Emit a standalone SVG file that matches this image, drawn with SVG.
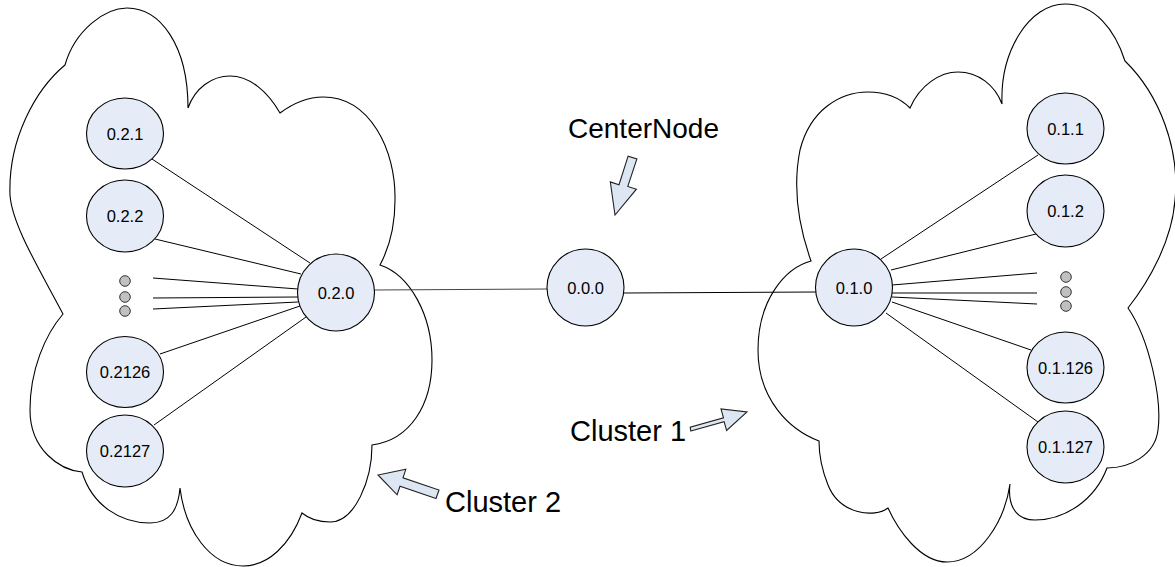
<svg xmlns="http://www.w3.org/2000/svg" width="1175" height="567" viewBox="0 0 1175 567">
<style>
.cloud{fill:#ffffff;stroke:#000;stroke-width:1.1}
.node{fill:#e6ecf7;stroke:#000;stroke-width:1.1}
.dot{fill:#c0c0c0;stroke:#333;stroke-width:1}
.lbl{font-family:"Liberation Sans",Arial,sans-serif;font-size:16.5px;fill:#000;text-anchor:middle}
.big{font-family:"Liberation Sans",Arial,sans-serif;font-size:28px;fill:#000}
.cl{font-size:29px}
.conn line{stroke:#000;stroke-width:1}
.arrow{fill:#dde6f3;stroke:#222;stroke-width:1.1;stroke-linejoin:miter}
</style>
<g id="cluster2">
<path class="cloud" d="M65,65 C75,30 105,8 127,8 C160,8 188,45 188,108 C195,88 212,76 230,76 C250,76 268,92 280,113 C295,102 310,97 323,97 C370,97 396,150 395,200 C395,230 388,250 380,265 C410,275 432,315 432,360 C432,405 410,440 372,445 C372,480 355,522 330,522 C318,522 308,518 302,513 C290,545 268,566 243,566 C210,566 185,530 180,488 C178,510 170,523 150,523 C120,523 92,505 82,472 C60,470 30,450 30,410 C30,370 45,335 63,314 C40,270 12,225 10,195 C8,140 35,90 65,65 Z"/>
</g>
<g id="cluster1">
<path class="cloud" d="M910,108 C920,85 940,72 958,72 C978,72 995,85 1002,104 C1000,50 1030,4 1065,4 C1095,4 1115,30 1125,61 C1160,95 1180,150 1175,200 C1172,240 1150,280 1128,308 C1150,340 1162,400 1158,430 C1155,455 1130,468 1107,468 C1095,500 1065,520 1035,520 C1012,520 1008,500 1010,484 C1005,520 980,562 947,562 C920,562 898,530 888,508 C875,518 840,515 828,485 C822,470 819,455 819,441 C790,430 758,400 758,350 C758,300 785,268 811,261 C800,230 792,190 800,150 C810,110 840,92 868,92 C885,92 900,98 910,108 Z"/>
</g>
<g id="connectors" class="conn">
<line x1="152" y1="159" x2="310" y2="263"/>
<line x1="155" y1="239" x2="301" y2="274"/>
<line x1="153" y1="278" x2="298" y2="289"/>
<line x1="153" y1="298" x2="298" y2="297"/>
<line x1="153" y1="309" x2="298" y2="302"/>
<line x1="160" y1="354" x2="300" y2="306"/>
<line x1="154" y1="425" x2="306" y2="317"/>
<line x1="374" y1="290" x2="547" y2="289" style="stroke:#444"/>
<line x1="624" y1="293" x2="816" y2="292"/>
<line x1="881" y1="259" x2="1038" y2="155"/>
<line x1="891" y1="270" x2="1036" y2="234"/>
<line x1="892" y1="285" x2="1037" y2="273"/>
<line x1="892" y1="293" x2="1037" y2="293"/>
<line x1="892" y1="297" x2="1037" y2="304"/>
<line x1="892" y1="302" x2="1031" y2="350"/>
<line x1="886" y1="313" x2="1038" y2="422"/>
</g>
<g id="n021"><ellipse class="node" cx="125" cy="133.5" rx="38.5" ry="35.5"/><text class="lbl" x="125" y="139.5">0.2.1</text></g>
<g id="n022"><ellipse class="node" cx="125" cy="216" rx="38.5" ry="36"/><text class="lbl" x="125" y="222">0.2.2</text></g>
<g id="dotsL"><circle class="dot" cx="125" cy="281" r="5.3"/><circle class="dot" cx="125" cy="297" r="5.3"/><circle class="dot" cx="125" cy="311" r="5.3"/></g>
<g id="n02126"><ellipse class="node" cx="125" cy="372" rx="38.5" ry="35.5"/><text class="lbl" x="125" y="378">0.2126</text></g>
<g id="n02127"><ellipse class="node" cx="125" cy="451" rx="38.5" ry="36"/><text class="lbl" x="125" y="457">0.2127</text></g>
<g id="n020"><ellipse class="node" cx="336" cy="292.5" rx="38.5" ry="38.5"/><text class="lbl" x="336" y="298.5">0.2.0</text></g>
<g id="n000"><ellipse class="node" cx="585.5" cy="287.5" rx="38.5" ry="38.5"/><text class="lbl" x="585.5" y="293.5">0.0.0</text></g>
<g id="n010"><ellipse class="node" cx="854" cy="287.5" rx="38.5" ry="38.5"/><text class="lbl" x="854" y="293.5">0.1.0</text></g>
<g id="n011"><ellipse class="node" cx="1065.5" cy="128.5" rx="38.5" ry="35.5"/><text class="lbl" x="1065.5" y="134.5">0.1.1</text></g>
<g id="n012"><ellipse class="node" cx="1065.5" cy="211" rx="38.5" ry="36"/><text class="lbl" x="1065.5" y="217">0.1.2</text></g>
<g id="dotsR"><circle class="dot" cx="1066" cy="277" r="5.3"/><circle class="dot" cx="1066" cy="292" r="5.3"/><circle class="dot" cx="1066" cy="306" r="5.3"/></g>
<g id="n01126"><ellipse class="node" cx="1065.5" cy="367.5" rx="38.5" ry="35.5"/><text class="lbl" x="1065.5" y="373.5">0.1.126</text></g>
<g id="n01127"><ellipse class="node" cx="1065.5" cy="447" rx="38.5" ry="36"/><text class="lbl" x="1065.5" y="453">0.1.127</text></g>
<g id="label-centernode">
<text class="big" x="568" y="138">CenterNode</text>
<polygon class="arrow" points="636.9,158.9 627.8,186.4 636.4,189.2 615,215 610.3,181.9 619.0,184.7 628.1,156.2"/>
</g>
<g id="label-cluster1">
<text class="big cl" x="570" y="441">Cluster 1</text>
<polygon class="arrow" points="690.8,431.0 724.1,421.6 726.6,430.4 747,412 721.0,408.9 723.5,417.8 690.2,427.1"/>
</g>
<g id="label-cluster2">
<text class="big cl" x="445" y="512">Cluster 2</text>
<polygon class="arrow" points="436.0,498.5 400.0,486.3 397.1,494.8 378,475 405.8,469.3 403.0,477.8 439.0,490.0"/>
</g>
</svg>
